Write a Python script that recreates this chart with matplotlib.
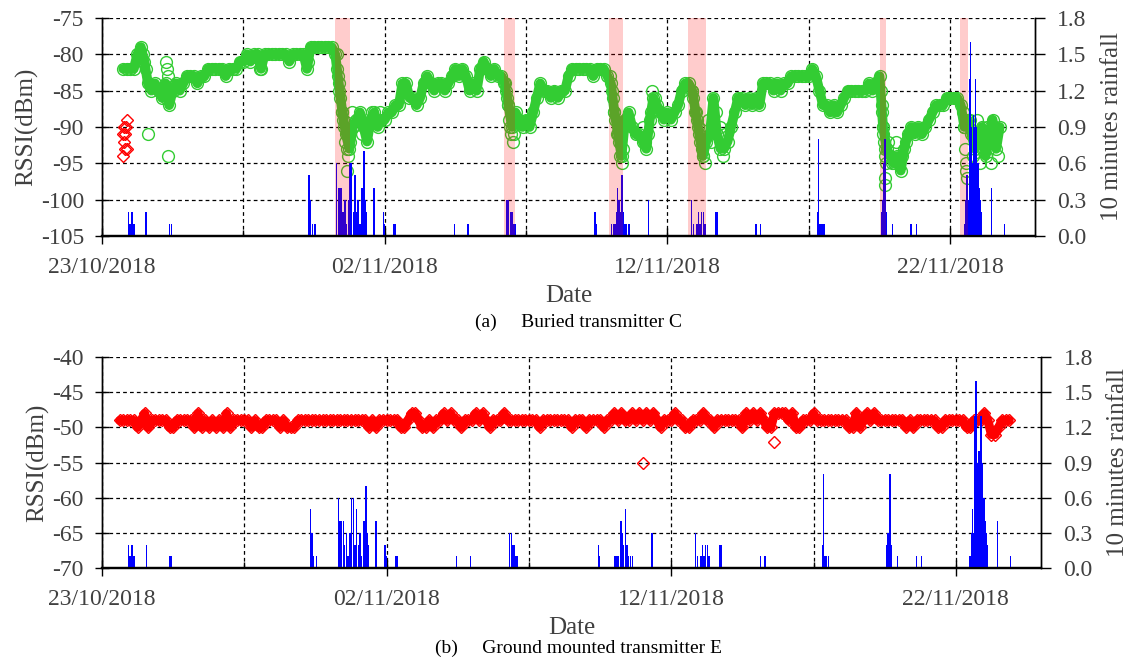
import numpy as np
import matplotlib
matplotlib.use('Agg')
import matplotlib.pyplot as plt
from matplotlib.ticker import FixedLocator, FormatStrFormatter

plt.rcParams['font.family'] = ['Liberation Serif', 'DejaVu Serif']
plt.rcParams['axes.unicode_minus'] = False

# x axis is in days since 23/10/2018 00:00
date_ticks = [0, 10, 20, 30]
date_labels = ['23/10/2018', '02/11/2018', '12/11/2018', '22/11/2018']
mid_ticks = [5, 15, 25]

# rainfall (10 minute totals), same gauge for both panels
rain_t = [0.94, 0.98, 1.02, 1.06, 1.10, 1.14, 1.56, 2.39, 2.45,
          7.32, 7.38, 7.44, 7.53,
          8.30, 8.36, 8.42, 8.48, 8.53, 8.59, 8.65, 8.71, 8.77, 8.83, 8.89, 8.95,
          9.01, 9.06, 9.12, 9.18, 9.22, 9.27, 9.31, 9.36, 9.62, 9.95, 9.99, 10.32, 10.37,
          12.46, 12.94,
          14.32, 14.38, 14.44, 14.50, 14.55, 14.60, 17.44, 17.48,
          18.03, 18.09, 18.15, 18.21, 18.24, 18.29, 18.33, 18.39, 18.44, 18.50, 18.56, 18.64,
          19.33,
          20.86, 20.92, 21.04, 21.09, 21.15, 21.21, 21.27, 21.33, 21.72, 21.77,
          23.13, 23.30,
          25.32, 25.35, 25.40, 25.46, 25.53,
          27.56, 27.62, 27.66, 27.69, 27.74, 27.95, 28.62, 28.80,
          30.50, 30.56, 30.59, 30.63, 30.68, 30.71, 30.75, 30.78, 30.82, 30.85, 30.89,
          30.92, 30.96, 30.99, 31.03, 31.07, 31.10, 31.46, 31.93]
rain_v = [0.2, 0.1, 0.1, 0.2, 0.1, 0.1, 0.2, 0.1, 0.1,
          0.5, 0.3, 0.1, 0.1,
          0.6, 0.4, 0.4, 0.4, 0.2, 0.3, 0.1, 0.3, 0.6, 0.6, 0.2, 0.5,
          0.2, 0.3, 0.1, 0.4, 0.4, 0.7, 0.3, 0.2, 0.4, 0.2, 0.1, 0.1, 0.1,
          0.1, 0.1,
          0.3, 0.3, 0.2, 0.2, 0.1, 0.1, 0.2, 0.1,
          0.1, 0.1, 0.1, 0.2, 0.4, 0.3, 0.2, 0.5, 0.2, 0.1, 0.1, 0.1,
          0.3,
          0.3, 0.1, 0.1, 0.2, 0.1, 0.2, 0.2, 0.1, 0.2, 0.2,
          0.1, 0.1,
          0.2, 0.8, 0.1, 0.1, 0.1,
          0.2, 0.3, 0.6, 0.8, 0.2, 0.1, 0.1, 0.1,
          0.1, 0.3, 0.5, 0.3, 1.3, 1.6, 0.9, 0.6, 1.0, 0.9, 1.3,
          0.9, 0.3, 0.6, 0.4, 0.3, 0.2, 0.4, 0.1]

# heavy rain periods (shaded)
wet_start = [8.23, 14.21, 17.93, 20.72, 27.50, 30.36]
wet_end = [8.78, 14.60, 18.43, 21.35, 27.73, 30.64]

# (a) buried transmitter C, 3-hourly readings from day 0.75
rssi_c_t0 = 0.75
rssi_c = [-82, -82,
          -82, -82, -80, -79, -81, -84, -85, -84,
          -85, -86, -84, -87, -85, -84, -85, -84,
          -83, -83, -83, -84, -83, -83, -82, -82,
          -82, -82, -82, -83, -82, -82, -82, -81,
          -81, -80, -81, -80, -80, -82, -80, -80,
          -80, -80, -80, -80, -80, -81, -80, -80,
          -80, -80, -82, -79, -79, -79, -79, -79,
          -79, -79, -80, -84, -88, -91, -93, -90,
          -89, -88, -90, -92, -89, -88, -90, -89,
          -89, -88, -88, -87, -87, -84, -84, -86,
          -86, -87, -86, -84, -83, -84, -85, -84,
          -84, -85, -84, -83, -82, -83, -82, -83,
          -85, -84, -85, -82, -81, -82, -83, -82,
          -83, -83, -84, -87, -90, -88, -89, -90,
          -89, -90, -88, -86, -84, -85, -85, -86,
          -85, -86, -85, -85, -83, -82, -82, -82,
          -82, -82, -82, -83, -82, -82, -82, -83,
          -84, -88, -91, -94, -89, -88, -90, -91,
          -91, -92, -93, -89, -86, -87, -88, -89,
          -88, -89, -88, -87, -85, -84, -84, -85,
          -88, -91, -94, -92, -91, -86, -91, -93,
          -93, -92, -90, -88, -86, -86, -87, -86,
          -87, -86, -87, -84, -84, -84, -85, -84,
          -85, -84, -84, -83, -83, -83, -83, -83,
          -83, -82, -83, -85, -87, -87, -88, -87,
          -88, -87, -86, -85, -85, -85, -85, -85,
          -85, -84, -85, -84, -83, -90, -93, -94,
          -95, -94, -96, -93, -91, -90, -91, -90,
          -91, -90, -89, -88, -87, -87, -87, -86,
          -86, -86, -86, -87, -90, -89, -91, -93,
          -92, -90, -94, -91, -89, -93, -90]
# extra readings during fast drops and scattered values
rssi_c_xt = [1.45, 1.55, 1.63, 2.25, 2.28, 2.30, 2.32, 2.34, 5.60, 7.30,
             8.30, 8.32, 8.36, 8.39, 8.42, 8.48, 8.51, 8.56, 8.59, 8.65, 8.69, 8.65, 8.72, 8.78, 8.84,
             9.20, 9.54, 9.83,
             14.23, 14.28, 14.32, 14.36, 14.39, 14.44, 14.47, 14.53, 14.57,
             17.97, 18.03, 18.07, 18.11, 18.15, 18.21, 18.27, 18.33, 18.39, 18.42,
             19.15, 19.20, 19.30, 19.42, 19.47, 19.55,
             20.86, 20.92, 20.98, 21.04, 21.09, 21.15, 21.21, 21.27, 21.33,
             21.45, 21.55, 21.70, 21.85, 21.95, 22.05,
             27.54, 27.57, 27.60, 27.62, 27.64, 27.66, 27.68, 27.70, 27.72, 27.68, 27.70,
             27.80, 27.95, 28.10, 28.20, 28.30, 28.45,
             30.45, 30.50, 30.52, 30.55, 30.57, 30.60,
             30.70, 30.80, 30.95, 31.05, 31.20, 31.30, 31.45, 31.55, 31.70]
rssi_c_xv = [-80, -82, -91, -86, -81, -82, -83, -94, -82, -81,
             -80, -82, -83, -85, -86, -88, -89, -90, -92, -93, -94, -96, -91, -92, -88,
             -91, -88, -88,
             -84, -85, -86, -87, -89, -90, -91, -92, -91,
             -83, -85, -86, -88, -89, -91, -92, -94, -95, -93,
             -90, -92, -91, -88, -85, -86,
             -85, -86, -88, -89, -90, -92, -93, -94, -95,
             -89, -92, -88, -90, -94, -91,
             -85, -87, -88, -90, -91, -92, -93, -94, -95, -97, -98,
             -92, -95, -92, -95, -94, -92,
             -88, -90, -93, -95, -96, -97,
             -89, -94, -89, -95, -93, -90, -95, -92, -94]
# red diamonds at the start of panel (a)
rssi_c_red_t = [0.88, 0.78, 0.86, 0.76, 0.82, 0.78, 0.88, 0.82, 0.76]
rssi_c_red_v = [-89, -90, -90, -91, -91, -92, -93, -93, -94]

# (b) ground mounted transmitter E, 3-hourly readings from day 0.625
rssi_e_t0 = 0.625
rssi_e = [-49, -49, -49,
          -49, -49, -50, -49, -48, -50, -49, -49,
          -49, -49, -49, -50, -50, -49, -49, -49,
          -49, -49, -50, -48, -50, -49, -50, -49,
          -50, -49, -50, -48, -50, -49, -49, -49,
          -49, -49, -50, -49, -50, -50, -49, -49,
          -49, -49, -50, -49, -50, -50, -50, -49,
          -49, -49, -49, -49, -49, -49, -49, -49,
          -49, -49, -49, -49, -49, -49, -49, -49,
          -49, -49, -49, -50, -49, -50, -49, -49,
          -49, -49, -49, -49, -50, -50, -49, -48,
          -48, -49, -50, -50, -49, -50, -49, -49,
          -48, -49, -48, -49, -49, -50, -49, -49,
          -49, -48, -49, -48, -49, -50, -49, -49,
          -49, -48, -49, -49, -49, -49, -49, -49,
          -49, -49, -49, -50, -49, -49, -49, -49,
          -49, -49, -49, -49, -50, -49, -49, -49,
          -50, -49, -49, -49, -49, -50, -49, -49,
          -48, -49, -48, -49, -49, -48, -49, -48,
          -49, -48, -49, -48, -49, -50, -49, -49,
          -49, -48, -49, -49, -50, -50, -49, -49,
          -49, -48, -49, -49, -50, -49, -49, -49,
          -49, -49, -49, -49, -50, -48, -49, -48,
          -49, -48, -49, -50, -50, -48, -48, -48,
          -48, -49, -48, -50, -50, -49, -49, -49,
          -48, -49, -49, -49, -49, -49, -49, -49,
          -49, -49, -50, -50, -48, -50, -49, -48,
          -49, -48, -49, -49, -49, -49, -49, -49,
          -49, -49, -50, -49, -50, -49, -49, -49,
          -49, -49, -49, -50, -50, -49, -49, -49,
          -49, -49, -49, -50, -50, -49, -49, -49,
          -48, -49, -51, -51, -50, -49, -49, -49]
rssi_e_xt = [19.02, 23.60]
rssi_e_xv = [-55, -52]

GREEN = '#33cc33'
TXT = '#404040'


def setup_panel(ax, ax2, ylim, caption, cap_y):
    ax.set_xlim(0, 33)
    ax.set_ylim(*ylim)
    ax.set_yticks(np.arange(ylim[0], ylim[1] + 1, 5))
    ax.xaxis.set_major_locator(FixedLocator(date_ticks))
    ax.xaxis.set_minor_locator(FixedLocator(mid_ticks))
    ax.set_xticklabels(date_labels)
    ax.grid(which='both', axis='x', color='k', linestyle=(0, (3, 2.5)), linewidth=0.9)
    ax.grid(which='major', axis='y', color='k', linestyle=(0, (3, 2.5)), linewidth=0.9)
    ax.tick_params(axis='y', direction='inout', length=10, width=1, pad=8,
                   labelsize=17, labelcolor=TXT)
    ax.tick_params(axis='x', which='major', direction='inout', length=12, width=1,
                   pad=9, labelsize=17, labelcolor=TXT)
    ax.tick_params(axis='x', which='minor', direction='in', length=4, width=1)
    ax.set_ylabel('RSSI(dBm)', fontsize=18, color=TXT, labelpad=2)
    ax.set_xlabel('Date', fontsize=18, color=TXT, labelpad=5)

    ax2.set_ylim(0, 1.8)
    ax2.set_yticks(np.arange(0, 1.81, 0.3))
    ax2.yaxis.set_major_formatter(FormatStrFormatter('%.1f'))
    ax2.tick_params(axis='y', direction='out', length=7, width=1, pad=9,
                    labelsize=17, labelcolor=TXT)
    ax2.set_ylabel('10 minutes rainfall', fontsize=18, color=TXT, labelpad=10)

    for a in (ax, ax2):
        a.spines['top'].set_visible(False)
        a.spines['bottom'].set_linewidth(1.6)
        a.spines['left'].set_linewidth(1.0)
        a.spines['right'].set_linewidth(1.0)

    ax2.bar(rain_t, rain_v, width=0.05, color='blue', linewidth=0)
    fig.text(0.513, cap_y, caption, ha='center', va='center', fontsize=14, color='k')


fig = plt.figure(figsize=(11.27, 6.59), dpi=100)

# panel (a)
ax1 = fig.add_axes([0.0905, 0.6419, 0.8279, 0.3308])
ax1b = ax1.twinx()
t_c = rssi_c_t0 + 0.125 * np.arange(len(rssi_c))
# dense logging makes the rings merge into a solid band
ax1.plot(t_c, rssi_c, '-', color=GREEN, lw=7, solid_joinstyle='round',
         solid_capstyle='round')
ax1.plot(t_c, rssi_c, 'o', ms=8.5, mfc='none', mec=GREEN, mew=1.0)
ax1.plot(rssi_c_xt, rssi_c_xv, 'o', ms=8.5, mfc='none', mec=GREEN, mew=1.0)
ax1.plot(rssi_c_red_t, rssi_c_red_v, 'D', ms=6, mfc='none', mec='red', mew=1.0)
setup_panel(ax1, ax1b, (-105, -75), '(a)     Buried transmitter C', 1 - 322 / 659)
for s, e in zip(wet_start, wet_end):
    ax1b.axvspan(s, e, color='red', alpha=0.2, linewidth=0)

# panel (b)
ax3 = fig.add_axes([0.0905, 0.1381, 0.8334, 0.3198])
ax3b = ax3.twinx()
t_e = rssi_e_t0 + 0.125 * np.arange(len(rssi_e))
ax3.plot(t_e, rssi_e, '-', color='red', lw=6.5, solid_joinstyle='round',
         solid_capstyle='round')
ax3.plot(t_e, rssi_e, 'D', ms=6.3, mfc='none', mec='red', mew=1.0)
ax3.plot(rssi_e_xt, rssi_e_xv, 'D', ms=6.3, mfc='none', mec='red', mew=1.0)
setup_panel(ax3, ax3b, (-70, -40), '(b)     Ground mounted transmitter E', 1 - 648 / 659)

fig.savefig('out.png', dpi=100)
